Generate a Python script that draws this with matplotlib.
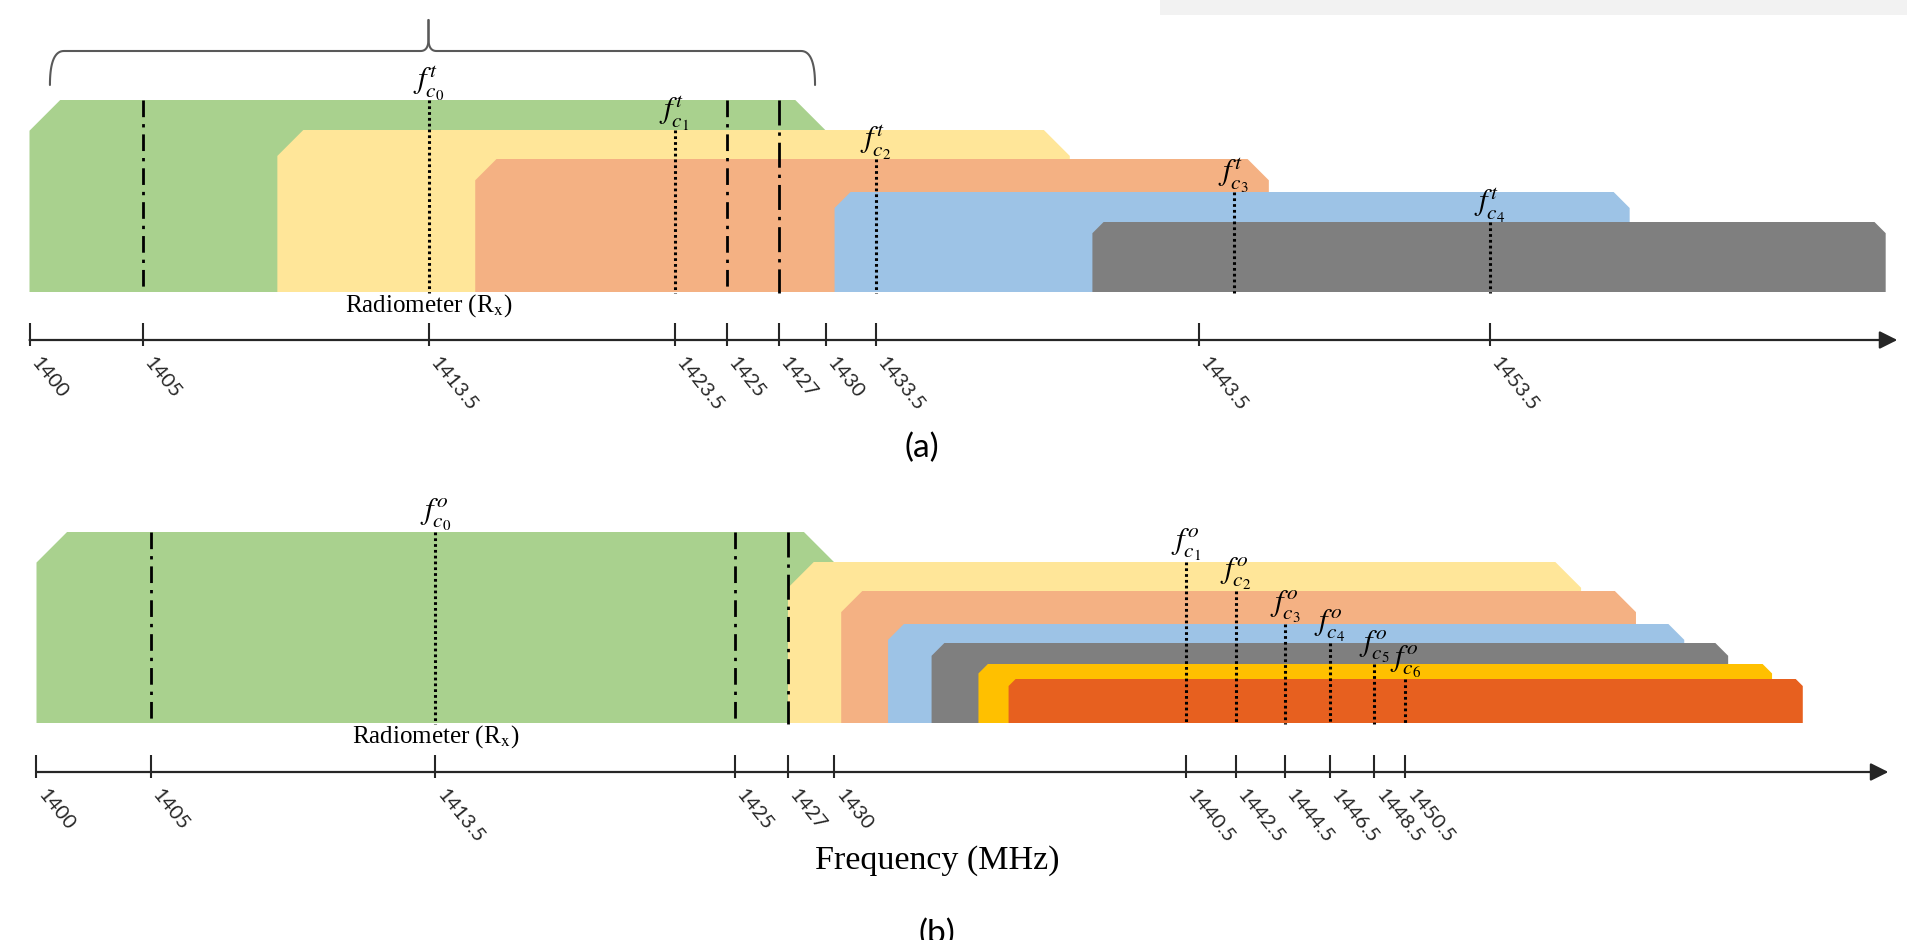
import numpy as np
import matplotlib
matplotlib.use("Agg")
import matplotlib.pyplot as plt
from matplotlib.patches import Polygon, Rectangle
from matplotlib import transforms

plt.rcParams["mathtext.fontset"] = "stix"

# ---------------- data ----------------
# (a) transmitter channels
a_ticks = [1400, 1405, 1413.5, 1423.5, 1425, 1427, 1430, 1433.5, 1443.5, 1453.5]
a_centres = [1413.5, 1423.5, 1433.5, 1444.7, 1453.5]
a_lo = [1400, 1409, 1415.4, 1430.6, 1440.2]
a_hi = [1430, 1439.5, 1445.9, 1458.3, 1467.1]
a_names = [r"$f_{c_0}^{t}$", r"$f_{c_1}^{t}$", r"$f_{c_2}^{t}$", r"$f_{c_3}^{t}$", r"$f_{c_4}^{t}$"]
a_guards = [1405, 1425, 1427]
a_brace = (1400.9, 1413.5, 1429.3)
a_axis_end = 1467.5

# (b) observation channels
b_ticks = [1400, 1405, 1413.5, 1425, 1427, 1430, 1440.5, 1442.5, 1444.5, 1446.5, 1448.5, 1450.5]
b_centres = [1413.5, 1440.5, 1442.5, 1444.5, 1446.5, 1448.5, 1450.5]
b_lo = [1400, 1427, 1430.2, 1431.6, 1432.9, 1434.3, 1435.2]
b_hi = [1430, 1458.5, 1461, 1463.2, 1465.2, 1467.2, 1468.6]
b_names = [r"$f_{c_%d}^{o}$" % i for i in range(7)]
b_guards = [1405, 1425, 1427]
b_axis_end = 1472.5

# ---------------- layout (pixels) ----------------
W, H = 1908, 940
COLORS = ["#a9d18e", "#ffe699", "#f4b183", "#9dc3e6", "#7f7f7f", "#ffc000", "#e7601f"]
AXIS_COL = "#262626"

# frequency -> horizontal pixel knots of the (non-uniform) drawing axis
A_KNOTS = ([1390, 1400, 1405, 1413.5, 1423.5, 1425, 1427, 1430, 1433.5, 1443.5, 1453.5, 1480],
           [-197.5, 29.5, 143, 428.5, 674.5, 727, 779, 826, 876, 1199, 1490, 2261])
B_KNOTS = ([1390, 1400, 1405, 1413.5, 1425, 1427, 1430, 1440.5, 1442.5, 1444.5, 1446.5, 1448.5, 1450.5, 1480],
           [-192.5, 36.5, 151, 435.5, 735, 788, 834.5, 1186, 1236, 1285, 1330, 1374.5, 1405.5, 2053])

A_TOPS, A_BOTTOM, A_AXIS_Y = [100, 130, 159, 192, 222], 292, 340
B_TOPS, B_BOTTOM, B_AXIS_Y = [532, 562, 591, 624, 643, 664, 679], 723, 772


def piecewise(knots):
    kf, kp = np.asarray(knots[0], float), np.asarray(knots[1], float)

    def fwd(f):
        return np.interp(f, kf, kp)

    def inv(p):
        return np.interp(p, kp, kf)
    return fwd, inv


def make_axes(fig, knots):
    fwd, inv = piecewise(knots)
    ax = fig.add_axes([0, 0, 1, 1])
    ax.set_xscale("function", functions=(fwd, inv))
    ax.set_xlim(inv(0), inv(W))
    ax.set_ylim(H, 0)
    ax.patch.set_alpha(0)
    ax.axis("off")
    return ax, fwd, inv


def draw_band(ax, fwd, inv, lo, hi, top, bottom, color, z):
    x0, x1 = fwd(lo), fwd(hi)
    c = 0.16 * (bottom - top)
    px = [x0, x0, x0 + c, x1 - c, x1, x1]
    py = [bottom, top + c, top, top, top + c, bottom]
    verts = np.column_stack([inv(np.array(px)), py])
    ax.add_patch(Polygon(verts, closed=True, facecolor=color, edgecolor="none", zorder=z))


def draw_panel(ax, fwd, inv, ticks, centres, lo, hi, names, guards, tops, bottom, axis_y, axis_end):
    for i in range(len(lo)):
        draw_band(ax, fwd, inv, lo[i], hi[i], tops[i], bottom, COLORS[i], 1 + i * 0.01)

    # guard-band markers (dash-dot)
    for g in guards:
        ls = (0, (9, 2.5, 1.2, 2.5)) if g == guards[-1] else (0, (6, 2.5, 1.2, 2.5))
        ax.plot([g, g], [tops[0], bottom + 1], color="black", lw=2.0, ls=ls, zorder=3)

    # channel centre frequencies (dotted) and their labels
    for i, c in enumerate(centres):
        ax.plot([c, c], [tops[i], bottom + 1], color="black", lw=2.2, ls=(0, (0.9, 1.0)), zorder=3)
        ax.text(c, tops[i] - 17, names[i], ha="center", va="center", fontsize=22, zorder=4)

    ax.text(centres[0], bottom + 14, r"Radiometer (R$_{\mathrm{x}}$)", ha="center", va="center",
            fontsize=18, family="Liberation Serif")

    # frequency axis with arrow
    ax.annotate("", xy=(axis_end, axis_y), xytext=(ticks[0], axis_y),
                arrowprops=dict(arrowstyle="-|>,head_length=0.6,head_width=0.3", color=AXIS_COL,
                                lw=1.6, shrinkA=0, shrinkB=0, mutation_scale=18))
    ax.vlines(ticks, axis_y - 17, axis_y + 6, color=AXIS_COL, lw=1.5)
    shift = transforms.offset_copy(ax.transData, fig=ax.figure, x=5, y=0, units="dots")
    for t in ticks:
        ax.text(t, axis_y + 20, f"{t:g}", rotation=-51, rotation_mode="anchor", ha="left",
                va="center", fontsize=14.5, family="Lato", color="#262626", transform=shift)


def draw_brace(ax, fwd, inv, lo, mid, hi, y_end, y_bar, y_tip):
    xl, xm, xr = fwd(lo), fwd(mid), fwd(hi)
    t = np.linspace(0, 1, 20)[:, None]

    def quad(p0, p1, p2):
        p0, p1, p2 = map(np.asarray, (p0, p1, p2))
        return (1 - t) ** 2 * p0 + 2 * (1 - t) * t * p1 + t ** 2 * p2

    r = 14
    left = np.vstack([quad((xl, y_end), (xl, y_bar), (xl + r, y_bar)),
                      quad((xm - 8, y_bar), (xm, y_bar), (xm, y_bar - 12)), [(xm, y_tip)]])
    right = np.vstack([[(xm, y_tip)], quad((xm, y_bar - 12), (xm, y_bar), (xm + 8, y_bar)),
                       quad((xr - r, y_bar), (xr, y_bar), (xr, y_end))])
    for seg in (left, right):
        ax.plot(inv(seg[:, 0]), seg[:, 1], color="#595959", lw=1.5, solid_capstyle="round")


fig = plt.figure(figsize=(W / 100, H / 100), dpi=100)
fig.patches.append(Rectangle((1160 / W, 1 - 15 / H), 1 - 1160 / W, 15 / H,
                             transform=fig.transFigure, facecolor="#f2f2f2", edgecolor="none"))

ax_a, fa, ia = make_axes(fig, A_KNOTS)
draw_panel(ax_a, fa, ia, a_ticks, a_centres, a_lo, a_hi, a_names, a_guards,
           A_TOPS, A_BOTTOM, A_AXIS_Y, a_axis_end)
draw_brace(ax_a, fa, ia, *a_brace, y_end=85, y_bar=51, y_tip=20)
fig.text(922 / W, 1 - 448 / H, "(a)", ha="center", va="center", fontsize=24, family="Lato")

ax_b, fb, ib = make_axes(fig, B_KNOTS)
draw_panel(ax_b, fb, ib, b_ticks, b_centres, b_lo, b_hi, b_names, b_guards,
           B_TOPS, B_BOTTOM, B_AXIS_Y, b_axis_end)
fig.text(937 / W, 1 - 861 / H, "Frequency (MHz)", ha="center", va="center", fontsize=24.5,
         family="Liberation Serif")
fig.text(937 / W, 1 - 934 / H, "(b)", ha="center", va="center", fontsize=24, family="Lato")

fig.savefig("out.png", dpi=100, facecolor="white")
